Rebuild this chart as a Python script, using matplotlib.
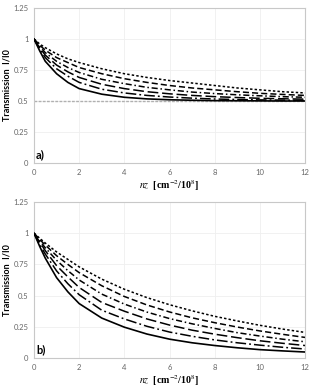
import matplotlib
matplotlib.use("Agg")
import matplotlib.pyplot as plt

# ---- data ----
nz = [0, 0.25, 0.5, 1, 1.5, 2, 3, 4, 5, 6, 7, 8, 9, 10, 11, 12]

a_s1 = [1, 0.96, 0.93, 0.88, 0.84, 0.81, 0.76, 0.72, 0.69, 0.665, 0.645, 0.625, 0.605, 0.59, 0.575, 0.565]
a_s2 = [1, 0.95, 0.91, 0.85, 0.81, 0.77, 0.72, 0.68, 0.65, 0.625, 0.605, 0.59, 0.575, 0.562, 0.553, 0.545]
a_s3 = [1, 0.94, 0.89, 0.82, 0.77, 0.73, 0.675, 0.64, 0.61, 0.59, 0.572, 0.56, 0.55, 0.542, 0.535, 0.53]
a_s4 = [1, 0.93, 0.87, 0.79, 0.735, 0.69, 0.635, 0.60, 0.575, 0.558, 0.545, 0.535, 0.528, 0.522, 0.518, 0.515]
a_s5 = [1, 0.92, 0.85, 0.76, 0.70, 0.65, 0.595, 0.565, 0.545, 0.532, 0.523, 0.516, 0.512, 0.509, 0.507, 0.505]
a_s6 = [1, 0.905, 0.82, 0.72, 0.65, 0.60, 0.555, 0.53, 0.517, 0.51, 0.506, 0.503, 0.502, 0.501, 0.50, 0.50]
a_limit = 0.5

b_s1 = [1, 0.96, 0.921, 0.85, 0.79, 0.73, 0.632, 0.551, 0.484, 0.427, 0.378, 0.334, 0.297, 0.262, 0.232, 0.205]
b_s2 = [1, 0.95, 0.905, 0.82, 0.75, 0.684, 0.579, 0.493, 0.425, 0.369, 0.322, 0.283, 0.248, 0.217, 0.19, 0.165]
b_s3 = [1, 0.94, 0.883, 0.783, 0.70, 0.625, 0.512, 0.432, 0.368, 0.316, 0.274, 0.237, 0.203, 0.176, 0.151, 0.13]
b_s4 = [1, 0.93, 0.86, 0.74, 0.65, 0.565, 0.445, 0.375, 0.313, 0.264, 0.223, 0.191, 0.163, 0.138, 0.118, 0.10]
b_s5 = [1, 0.91, 0.833, 0.698, 0.595, 0.507, 0.383, 0.313, 0.254, 0.208, 0.174, 0.145, 0.122, 0.103, 0.086, 0.072]
b_s6 = [1, 0.895, 0.80, 0.644, 0.53, 0.436, 0.32, 0.247, 0.192, 0.151, 0.122, 0.10, 0.082, 0.067, 0.057, 0.048]

yticks = [0, 0.25, 0.5, 0.75, 1, 1.25]
ytick_labels = ["0", "0.25", "0.5", "0.75", "1", "1.25"]
xticks = [0, 2, 4, 6, 8, 10, 12]

styles = [
    dict(ls=(0, (1.6, 1.4)), lw=1.1),
    dict(ls=(0, (4, 2)), lw=1.1),
    dict(ls=(0, (4, 1.8, 1, 1.8)), lw=1.1),
    dict(ls=(0, (7, 2.5)), lw=1.1),
    dict(ls=(0, (7, 2, 1.2, 2)), lw=1.1),
    dict(ls="-", lw=1.2),
]

plt.rcParams['font.family'] = ['Lato', 'DejaVu Sans']
plt.rcParams['mathtext.fontset'] = 'stix'

fig = plt.figure(figsize=(3.18, 3.91), dpi=100)
W, H = 318, 391

def make_ax(top_px, bot_px):
    left, right = 34, 305
    return fig.add_axes([left / W, 1 - bot_px / H, (right - left) / W, (bot_px - top_px) / H])

ax_a = make_ax(8, 163)
ax_b = make_ax(202, 358)

def style_ax(ax, tag):
    ax.set_xlim(0, 12)
    ax.set_ylim(0, 1.25)
    ax.set_xticks(xticks)
    ax.set_yticks(yticks)
    ax.set_yticklabels(ytick_labels)
    ax.tick_params(length=0, labelsize=5.5, labelcolor="#666666", pad=4)
    ax.grid(True, color="#efefef", lw=0.6)
    ax.set_axisbelow(True)
    for sp in ax.spines.values():
        sp.set_color("#c8c8c8")
        sp.set_linewidth(0.8)
    ax.set_ylabel("Transmission  I/I0", fontsize=6.5, fontweight="bold")
    ax.yaxis.set_label_coords(-0.082, 0.5)
    ax.set_xlabel(r"$\mathit{nz}$  [cm$^{-2}$/10$^{8}$]", fontsize=7.2, fontweight="bold",
                  family=["Liberation Serif", "DejaVu Serif"], labelpad=2)
    ax.text(0.008, 0.015, tag, transform=ax.transAxes, fontsize=8, fontweight="bold",
            ha="left", va="bottom")

ax_a.axhline(a_limit, color="#b0b0b0", lw=1.0, ls=(0, (2, 1)), zorder=1)
for ys, st in zip([a_s1, a_s2, a_s3, a_s4, a_s5, a_s6], styles):
    ax_a.plot(nz, ys, color="black", linestyle=st["ls"], lw=st["lw"], zorder=3)

for ys, st in zip([b_s1, b_s2, b_s3, b_s4, b_s5, b_s6], styles):
    ax_b.plot(nz, ys, color="black", linestyle=st["ls"], lw=st["lw"], zorder=3)

style_ax(ax_a, "a)")
style_ax(ax_b, "b)")

fig.savefig("out.png", dpi=100)
